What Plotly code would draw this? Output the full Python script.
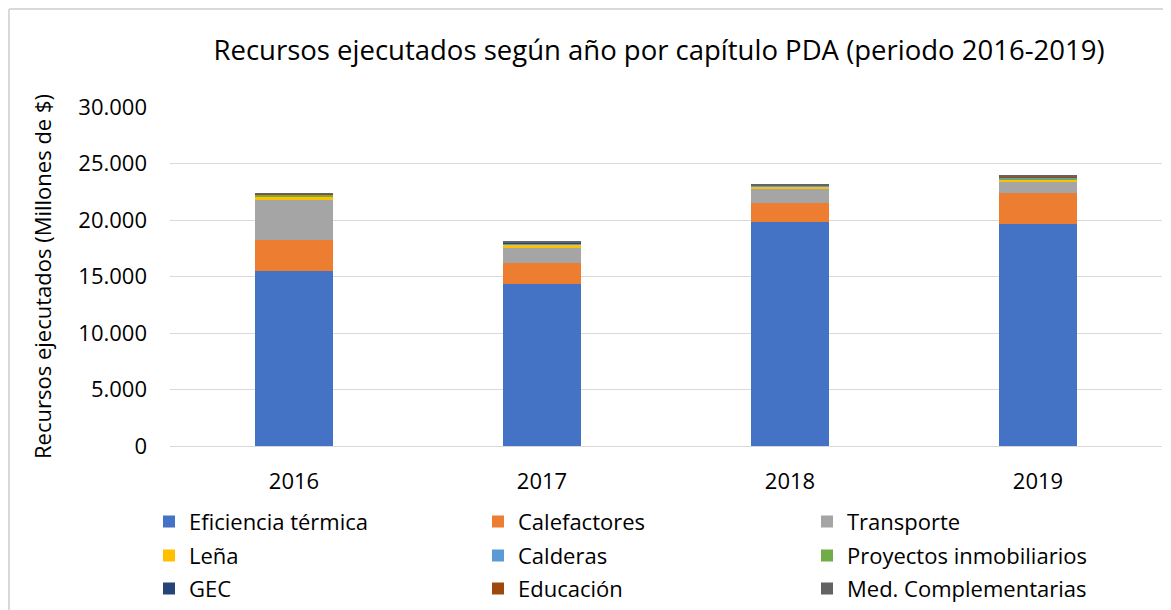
import plotly.graph_objects as go

years = ["2016", "2017", "2018", "2019"]
eficiencia = [15450, 14330, 19850, 19670]
calefactores = [2800, 1880, 1680, 2750]
transporte = [3500, 1330, 1240, 940]
lena = [300, 220, 150, 230]
calderas = [40, 180, 120, 60]
proyectos = [150, 20, 20, 120]
gec = [10, 10, 10, 10]
educacion = [60, 30, 20, 40]
med_compl = [60, 60, 60, 80]

series = [
    ("Eficiencia térmica", eficiencia, "#4472C4"),
    ("Calefactores", calefactores, "#ED7D31"),
    ("Transporte", transporte, "#A5A5A5"),
    ("Leña", lena, "#FFC000"),
    ("Calderas", calderas, "#5B9BD5"),
    ("Proyectos inmobiliarios", proyectos, "#70AD47"),
    ("GEC", gec, "#264478"),
    ("Educación", educacion, "#9E480E"),
    ("Med. Complementarias", med_compl, "#636363"),
]

legend_ids = ["legend", "legend2", "legend3"]

fig = go.Figure()
for i, (name, vals, color) in enumerate(series):
    fig.add_trace(go.Bar(x=years, y=vals, name=name, marker_color=color,
                         marker_line_width=0, legend=legend_ids[i // 3]))

W, H = 1163, 602
ml, mt, pw, ph = 162, 99, 992, 339
mr, mb = W - ml - pw, H - mt - ph

def leg(y):
    return dict(orientation="h", x=-21 / pw, xanchor="left", y=y, yanchor="top",
                entrywidth=284, entrywidthmode="pixels", traceorder="normal",
                font=dict(size=22), bgcolor="rgba(0,0,0,0)")

fig.update_layout(
    width=W, height=H,
    barmode="stack",
    bargap=0.685,
    separators=",.",
    plot_bgcolor="white", paper_bgcolor="white",
    font=dict(family="Open Sans", size=22, color="#000000"),
    margin=dict(l=ml, r=mr, t=mt, b=mb, autoexpand=False),
    title=dict(text="Recursos ejecutados según año por capítulo PDA (periodo 2016-2019)",
               x=(659 - 8) / W, xanchor="center", y=1 - 42 / H, yanchor="middle",
               font=dict(size=27.5, color="#000000")),
    xaxis=dict(showline=True, linecolor="#d9d9d9", linewidth=1, ticks="",
               tickfont=dict(size=22), ticklabelstandoff=16),
    yaxis=dict(range=[0, 30000], dtick=5000, tickformat=",d",
               gridcolor="#d9d9d9", gridwidth=1, zeroline=False,
               ticks="", tickfont=dict(size=22), ticklabelstandoff=22,
               title=dict(text="Recursos ejecutados (Millones de $)",
                          font=dict(size=22), standoff=20)),
    legend=leg(-54.6 / ph),
    legend2=leg(-88.6 / ph),
    legend3=leg(-121.6 / ph),
    showlegend=True,
)

# Outer chart border (left and top edges)
fig.add_shape(type="line", xref="paper", yref="paper",
              x0=(1 - ml) / pw, x1=(1 - ml) / pw,
              y0=(mt + ph - H - 5) / ph, y1=(mt + ph - 1) / ph,
              line=dict(color="#d9d9d9", width=2), layer="below")
fig.add_shape(type="line", xref="paper", yref="paper",
              x0=(1 - ml) / pw, x1=(W + 5 - ml) / pw,
              y0=(mt + ph - 1) / ph, y1=(mt + ph - 1) / ph,
              line=dict(color="#d9d9d9", width=2), layer="below")

fig.write_html("out.html")
